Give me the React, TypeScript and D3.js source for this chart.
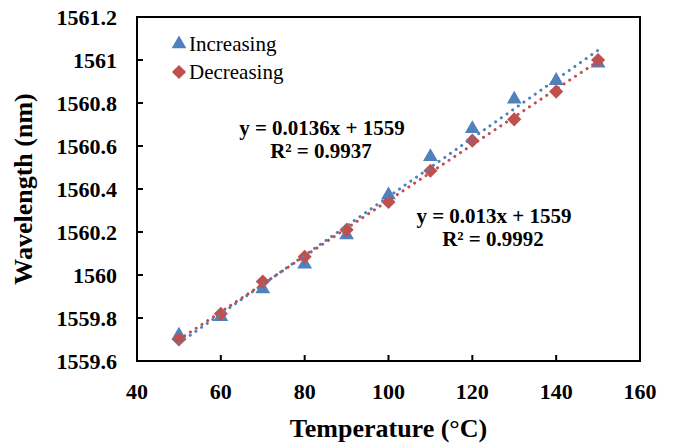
import React from "react";
import * as d3 from "d3";

// temperatures (°C)
const temps = [50, 60, 70, 80, 90, 100, 110, 120, 130, 140, 150];
// wavelength while heating
const increasing = [
  1559.72, 1559.806, 1559.935, 1560.05, 1560.186, 1560.372, 1560.55, 1560.68,
  1560.817, 1560.904, 1560.985,
];
// wavelength while cooling
const decreasing = [
  1559.7, 1559.82, 1559.97, 1560.085, 1560.21, 1560.34, 1560.485, 1560.625,
  1560.724, 1560.853, 1561.0,
];
const xTicks = [40, 60, 80, 100, 120, 140, 160];
const yTicks = [1559.6, 1559.8, 1560, 1560.2, 1560.4, 1560.6, 1560.8, 1561, 1561.2];

const W = 673;
const H = 443;
const margin = { left: 137, right: 33, top: 17, bottom: 82 };
const BLUE = "#4F81BD";
const RED = "#C0504D";
const FONT = "Liberation Serif, DejaVu Serif, serif";

// least squares fit, like excel's linear trendline
function fit(xs: number[], ys: number[]) {
  const mx = d3.mean(xs)!;
  const my = d3.mean(ys)!;
  const num = d3.sum(xs, (x, i) => (x - mx) * (ys[i] - my));
  const den = d3.sum(xs, (x) => (x - mx) * (x - mx));
  const b = num / den;
  return { a: my - b * mx, b };
}

export default function App() {
  const x = d3
    .scaleLinear()
    .domain([40, 160])
    .range([margin.left, W - margin.right]);
  const y = d3
    .scaleLinear()
    .domain([1559.6, 1561.2])
    .range([H - margin.bottom, margin.top]);

  const tri = d3.symbol(d3.symbolTriangle, 95)()!;
  const sq = d3.symbol(d3.symbolSquare, 100)()!;

  const trend = (ys: number[]) => {
    const { a, b } = fit(temps, ys);
    const x0 = temps[0];
    const x1 = temps[temps.length - 1];
    return d3.line()([
      [x(x0), y(a + b * x0)],
      [x(x1), y(a + b * x1)],
    ])!;
  };

  const [x0, x1] = x.range();
  const [yb, yt] = y.range();

  return (
    <svg
      width={W}
      height={H}
      style={{ position: "absolute", left: 0, top: 0, background: "#fff", fontFamily: FONT }}
    >
      {/* markers */}
      {temps.map((t, i) => (
        <path
          key={"i" + t}
          d={tri}
          fill={BLUE}
          transform={`translate(${x(t)},${y(increasing[i])})`}
        />
      ))}
      {temps.map((t, i) => (
        <path
          key={"d" + t}
          d={sq}
          fill={RED}
          transform={`translate(${x(t)},${y(decreasing[i])}) rotate(45)`}
        />
      ))}

      {/* trendlines */}
      <path
        d={trend(increasing)}
        stroke={BLUE}
        strokeWidth={3}
        strokeLinecap="round"
        strokeDasharray="0.1 6.8"
        fill="none"
      />
      <path
        d={trend(decreasing)}
        stroke={RED}
        strokeWidth={3}
        strokeLinecap="round"
        strokeDasharray="0.1 6.8"
        fill="none"
      />

      {/* frame + ticks */}
      <rect
        x={x0}
        y={yt}
        width={x1 - x0}
        height={yb - yt}
        fill="none"
        stroke="#000"
        strokeWidth={2}
      />
      {xTicks.map((t) => (
        <g key={"xt" + t}>
          <line x1={x(t)} x2={x(t)} y1={yb} y2={yb - 6} stroke="#000" strokeWidth={2} />
          <text
            x={x(t)}
            y={yb + 38}
            textAnchor="middle"
            fontSize={22}
            fontWeight="bold"
          >
            {t}
          </text>
        </g>
      ))}
      {yTicks.map((t) => (
        <g key={"yt" + t}>
          <line x1={x0} x2={x0 + 6} y1={y(t)} y2={y(t)} stroke="#000" strokeWidth={2} />
          <text
            x={117}
            y={y(t)}
            dy="0.35em"
            textAnchor="end"
            fontSize={22}
            fontWeight="bold"
          >
            {d3.format("~f")(t)}
          </text>
        </g>
      ))}

      {/* axis titles */}
      <text
        x={(x0 + x1) / 2}
        y={437}
        textAnchor="middle"
        fontSize={26}
        fontWeight="bold"
      >
        Temperature (°C)
      </text>
      <text
        transform={`translate(32,${(yb + yt) / 2}) rotate(-90)`}
        textAnchor="middle"
        fontSize={26}
        fontWeight="bold"
      >
        Wavelength (nm)
      </text>

      {/* legend */}
      <path d={tri} fill={BLUE} transform="translate(179,44)" />
      <text x={189} y={51} fontSize={21}>
        Increasing
      </text>
      <path d={sq} fill={RED} transform="translate(179,72) rotate(45)" />
      <text x={189} y={79} fontSize={21}>
        Decreasing
      </text>

      {/* fit equations */}
      <g fontSize={21} fontWeight="bold" textAnchor="middle">
        <text x={322} y={135}>y = 0.0136x + 1559</text>
        <text x={321} y={158}>R² = 0.9937</text>
        <text x={494} y={223}>y = 0.013x + 1559</text>
        <text x={493} y={246}>R² = 0.9992</text>
      </g>
    </svg>
  );
}
